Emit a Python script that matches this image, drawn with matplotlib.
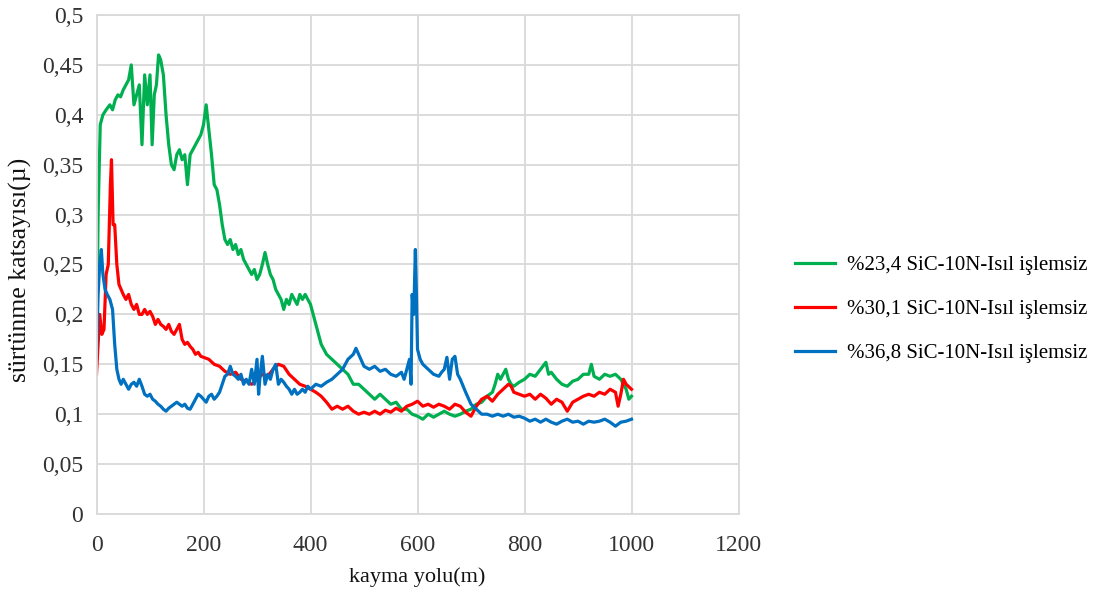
import matplotlib
matplotlib.use("Agg")
import matplotlib.pyplot as plt
from matplotlib.ticker import FuncFormatter, MultipleLocator

green_x = [0, 3, 7, 12, 18, 25, 30, 35, 40, 45, 50, 55, 60, 65, 70, 75, 80, 85, 90, 95, 100, 104, 108, 112, 116, 120,
           125, 130, 135, 140, 145, 150, 155, 160, 165, 170, 175, 180, 185, 190, 195, 200, 205, 210, 215, 220, 225,
           230, 235, 240, 245, 250, 255, 260, 265, 270, 275, 280, 285, 290, 295, 300, 305, 310, 315, 320, 325, 330,
           335, 340, 345, 350, 355, 360, 365, 370, 375, 380, 385, 390, 395, 400, 405, 410, 415, 420, 425, 430, 440,
           450, 460, 470, 480, 490, 500, 510, 520, 530, 540, 550, 560, 570, 580, 590, 600, 610, 620, 630, 640, 650,
           660, 670, 680, 690, 700, 710, 720, 730, 740, 745, 750, 755, 760, 765, 770, 775, 780, 790, 800, 810, 820,
           830, 840, 845, 850, 860, 870, 880, 890, 900, 910, 920, 925, 930, 940, 950, 960, 970, 980, 990, 995, 1000]
green_y = [0.16, 0.30, 0.39, 0.40, 0.405, 0.41, 0.405, 0.415, 0.42, 0.418, 0.425, 0.43, 0.435, 0.45, 0.41, 0.42, 0.43,
           0.37, 0.44, 0.41, 0.44, 0.37, 0.42, 0.43, 0.46, 0.455, 0.44, 0.40, 0.37, 0.35, 0.345, 0.36, 0.365, 0.355,
           0.36, 0.33, 0.36, 0.365, 0.37, 0.375, 0.38, 0.39, 0.41, 0.385, 0.36, 0.33, 0.325, 0.31, 0.29, 0.275, 0.27,
           0.275, 0.265, 0.27, 0.26, 0.265, 0.255, 0.25, 0.245, 0.24, 0.245, 0.235, 0.24, 0.25, 0.262, 0.25, 0.24,
           0.235, 0.225, 0.22, 0.215, 0.205, 0.215, 0.21, 0.22, 0.215, 0.21, 0.22, 0.215, 0.22, 0.215, 0.21, 0.2,
           0.19, 0.18, 0.17, 0.165, 0.16, 0.155, 0.15, 0.145, 0.14, 0.13, 0.13, 0.125, 0.12, 0.115, 0.12, 0.115,
           0.11, 0.112, 0.105, 0.105, 0.1, 0.098, 0.095, 0.1, 0.097, 0.1, 0.103, 0.1, 0.098, 0.1, 0.103, 0.105, 0.11,
           0.112, 0.118, 0.122, 0.13, 0.14, 0.135, 0.14, 0.145, 0.135, 0.13, 0.128, 0.132, 0.135, 0.14, 0.138, 0.145,
           0.152, 0.14, 0.142, 0.135, 0.13, 0.128, 0.133, 0.135, 0.14, 0.14, 0.15, 0.138, 0.135, 0.14, 0.138, 0.14,
           0.135, 0.125, 0.115, 0.118]

red_x = [0, 3, 6, 10, 14, 18, 22, 26, 28, 31, 34, 38, 42, 46, 50, 55, 60, 65, 70, 75, 80, 85, 90, 95, 100, 105, 110,
         115, 120, 125, 130, 135, 140, 145, 150, 155, 160, 165, 170, 175, 180, 185, 190, 195, 200, 210, 220, 230,
         240, 250, 260, 270, 280, 290, 300, 310, 320, 330, 340, 350, 360, 370, 380, 390, 400, 410, 420, 430, 440,
         450, 460, 470, 480, 490, 500, 510, 520, 530, 540, 550, 560, 570, 580, 590, 600, 610, 620, 630, 640, 650,
         660, 670, 680, 690, 700, 710, 720, 730, 740, 750, 760, 770, 775, 780, 790, 800, 810, 820, 830, 840, 850,
         860, 870, 880, 890, 900, 910, 920, 930, 940, 950, 960, 970, 975, 980, 985, 990, 1000]
red_y = [0.14, 0.17, 0.20, 0.18, 0.185, 0.24, 0.25, 0.33, 0.355, 0.29, 0.29, 0.25, 0.23, 0.225, 0.22, 0.215, 0.22,
         0.21, 0.205, 0.21, 0.2, 0.2, 0.205, 0.2, 0.203, 0.198, 0.19, 0.195, 0.19, 0.188, 0.185, 0.19, 0.183, 0.18,
         0.185, 0.19, 0.175, 0.17, 0.172, 0.168, 0.165, 0.16, 0.162, 0.158, 0.157, 0.155, 0.15, 0.148, 0.143, 0.14,
         0.142, 0.135, 0.133, 0.13, 0.135, 0.14, 0.138, 0.145, 0.15, 0.148, 0.14, 0.135, 0.13, 0.128, 0.125, 0.122,
         0.118, 0.112, 0.105, 0.108, 0.105, 0.108, 0.103, 0.1, 0.102, 0.1, 0.103, 0.1, 0.104, 0.102, 0.106, 0.103,
         0.108, 0.11, 0.113, 0.108, 0.11, 0.107, 0.11, 0.108, 0.105, 0.11, 0.108, 0.102, 0.098, 0.108, 0.115, 0.118,
         0.113, 0.12, 0.125, 0.13, 0.128, 0.122, 0.12, 0.118, 0.12, 0.115, 0.12, 0.116, 0.11, 0.115, 0.112, 0.103,
         0.112, 0.115, 0.118, 0.12, 0.118, 0.122, 0.12, 0.125, 0.122, 0.108, 0.12, 0.135, 0.13, 0.125]

blue_x = [0, 3, 6, 9, 12, 16, 20, 25, 30, 34, 38, 42, 46, 50, 55, 60, 65, 70, 75, 80, 85, 90, 95, 100, 105, 110, 115,
          120, 125, 130, 135, 140, 145, 150, 155, 160, 165, 170, 175, 180, 185, 190, 195, 200, 205, 210, 215, 220,
          225, 230, 235, 240, 245, 250, 255, 260, 265, 270, 275, 280, 285, 290, 295, 300, 303, 306, 310, 315, 320,
          325, 330, 335, 340, 345, 350, 355, 360, 365, 370, 375, 380, 385, 390, 395, 400, 410, 420, 430, 440, 450,
          460, 470, 480, 485, 490, 500, 510, 520, 530, 540, 550, 560, 570, 575, 580, 585, 588, 590, 593, 596, 598,
          600, 605, 610, 620, 630, 640, 645, 650, 655, 660, 665, 670, 675, 680, 690, 700, 710, 720, 730, 740, 750,
          760, 770, 780, 790, 800, 810, 820, 830, 840, 850, 860, 870, 880, 890, 900, 910, 920, 930, 940, 950, 960,
          970, 980, 990, 1000]
blue_y = [0.16, 0.22, 0.25, 0.265, 0.24, 0.225, 0.22, 0.215, 0.205, 0.17, 0.145, 0.135, 0.13, 0.135, 0.13, 0.125,
          0.13, 0.132, 0.128, 0.135, 0.128, 0.12, 0.118, 0.12, 0.115, 0.113, 0.11, 0.108, 0.105, 0.103, 0.106, 0.108,
          0.11, 0.112, 0.11, 0.108, 0.11, 0.106, 0.105, 0.11, 0.115, 0.12, 0.118, 0.115, 0.112, 0.118, 0.12, 0.115,
          0.118, 0.122, 0.13, 0.138, 0.14, 0.148, 0.14, 0.138, 0.135, 0.14, 0.13, 0.135, 0.13, 0.145, 0.13, 0.155,
          0.12, 0.14, 0.158, 0.13, 0.14, 0.135, 0.145, 0.15, 0.13, 0.135, 0.132, 0.128, 0.125, 0.12, 0.125, 0.12,
          0.122, 0.125, 0.122, 0.128, 0.125, 0.13, 0.128, 0.132, 0.135, 0.14, 0.145, 0.155, 0.16, 0.166, 0.16, 0.148,
          0.145, 0.148, 0.143, 0.145, 0.14, 0.138, 0.142, 0.135, 0.145, 0.155, 0.13, 0.22, 0.2, 0.265, 0.22, 0.165,
          0.155, 0.15, 0.145, 0.14, 0.138, 0.142, 0.145, 0.157, 0.135, 0.155, 0.158, 0.14, 0.135, 0.122, 0.11, 0.105,
          0.1, 0.1, 0.098, 0.1, 0.098, 0.1, 0.097, 0.098, 0.096, 0.093, 0.095, 0.092, 0.095, 0.092, 0.09, 0.093,
          0.095, 0.092, 0.093, 0.09, 0.093, 0.092, 0.093, 0.095, 0.092, 0.088, 0.092, 0.093, 0.095]

labels = ["%23,4 SiC-10N-Isıl işlemsiz", "%30,1 SiC-10N-Isıl işlemsiz", "%36,8 SiC-10N-Isıl işlemsiz"]
colors = ["#00B050", "#FF0000", "#0070C0"]

plt.rcParams['font.family'] = ['Liberation Serif', 'DejaVu Serif']

fig = plt.figure(figsize=(11.04, 5.99), dpi=100)
ax = fig.add_axes([96.5 / 1104, 1 - 514 / 599, (738.5 - 96.5) / 1104, (514 - 15) / 599])

for xs, ys, c, lab in zip([green_x, red_x, blue_x], [green_y, red_y, blue_y], colors, labels):
    ax.plot(xs, ys, color=c, lw=2.3, label=lab)

ax.set_xlim(0, 1200)
ax.set_ylim(0, 0.5)
ax.xaxis.set_major_locator(MultipleLocator(200))
ax.yaxis.set_major_locator(MultipleLocator(0.05))
ax.yaxis.set_major_formatter(FuncFormatter(lambda v, p: ('%g' % round(v, 2)).replace('.', ',')))
ax.grid(True, color="#D9D9D9", lw=1.3)
ax.set_axisbelow(True)
for s in ax.spines.values():
    s.set_color("#D9D9D9")
    s.set_linewidth(1.3)
ax.tick_params(length=0, labelsize=17, colors="#333333")
ax.tick_params(axis='x', pad=15)
ax.tick_params(axis='y', pad=9.5)

ax.set_xlabel("kayma yolu(m)", fontsize=16, color="#111111")
ax.xaxis.set_label_coords(0.499, -0.106)
ax.set_ylabel("sürtünme katsayısı(µ)", fontsize=18.5, color="#111111")
ax.yaxis.set_label_coords(-0.1005, 0.489)

ax.legend(loc="center left", bbox_to_anchor=(1.0588, 0.41), frameon=False, fontsize=15,
          handlelength=1.92, labelspacing=1.17, handletextpad=0.58)

fig.savefig("out.png", dpi=100)
